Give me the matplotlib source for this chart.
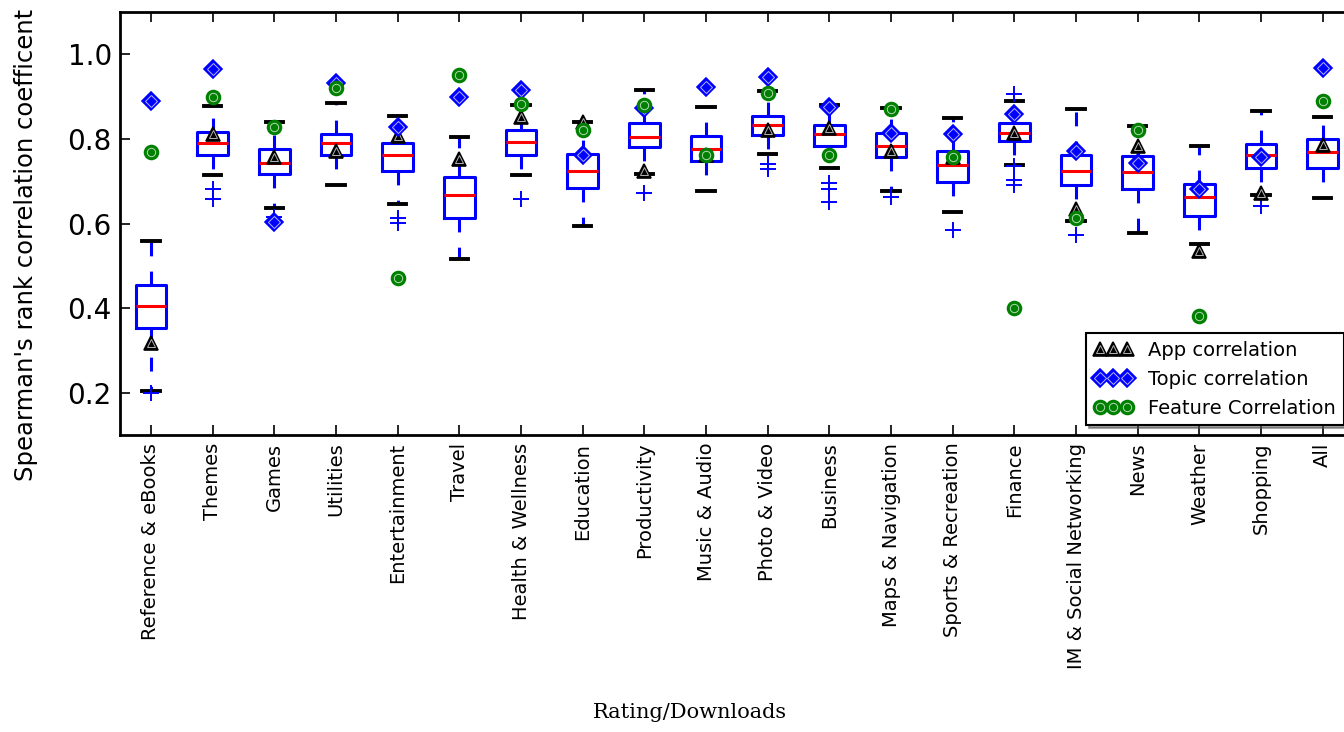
import numpy as np
import matplotlib
matplotlib.use("Agg")
import matplotlib.pyplot as plt
from matplotlib.legend_handler import HandlerTuple

# App categories along the x axis
categories = [
    "Reference & eBooks", "Themes", "Games", "Utilities", "Entertainment",
    "Travel", "Health & Wellness", "Education", "Productivity", "Music & Audio",
    "Photo & Video", "Business", "Maps & Navigation", "Sports & Recreation",
    "Finance", "IM & Social Networking", "News", "Weather", "Shopping", "All",
]

# Box statistics of the per-category correlation distributions
medians = [0.405, 0.791, 0.743, 0.790, 0.761, 0.667, 0.792, 0.724, 0.804, 0.776,
           0.834, 0.811, 0.783, 0.738, 0.814, 0.725, 0.722, 0.663, 0.761, 0.768]
q1 = [0.353, 0.763, 0.716, 0.762, 0.724, 0.614, 0.761, 0.685, 0.780, 0.747,
      0.809, 0.783, 0.757, 0.699, 0.794, 0.692, 0.682, 0.617, 0.731, 0.732]
q3 = [0.455, 0.816, 0.776, 0.812, 0.790, 0.711, 0.820, 0.765, 0.838, 0.807,
      0.855, 0.833, 0.815, 0.771, 0.837, 0.763, 0.760, 0.694, 0.788, 0.800]
whisker_lo = [0.204, 0.714, 0.637, 0.692, 0.645, 0.515, 0.714, 0.594, 0.718, 0.678,
              0.765, 0.731, 0.676, 0.627, 0.739, 0.605, 0.578, 0.551, 0.668, 0.660]
whisker_hi = [0.559, 0.878, 0.841, 0.884, 0.853, 0.805, 0.880, 0.841, 0.915, 0.875,
              0.914, 0.880, 0.872, 0.849, 0.889, 0.871, 0.830, 0.784, 0.867, 0.852]
fliers = [[0.200], [0.682, 0.659], [0.616], [], [0.612, 0.602],
          [], [0.659], [], [0.672], [],
          [0.741, 0.729], [0.696, 0.682, 0.652], [0.663], [0.584],
          [0.906, 0.736, 0.704, 0.692],
          [0.572], [], [], [0.641], []]

# Single correlation values per category
app_corr = [0.318, 0.812, 0.758, 0.772, 0.808, 0.753, 0.851, 0.841, 0.725, 0.762,
            0.821, 0.825, 0.772, 0.758, 0.813, 0.634, 0.784, 0.536, 0.672, 0.786]
topic_corr = [0.890, 0.965, 0.604, 0.933, 0.829, 0.900, 0.916, 0.761, 0.873, 0.923,
              0.947, 0.876, 0.813, 0.812, 0.860, 0.772, 0.744, 0.682, 0.758, 0.967]
feature_corr = [0.770, 0.900, 0.829, 0.920, 0.471, 0.950, 0.882, 0.820, 0.881, 0.761,
                0.908, 0.761, 0.871, 0.758, 0.400, 0.612, 0.820, 0.382, np.nan, 0.890]

yticks = [0.2, 0.4, 0.6, 0.8, 1.0]

plt.rcParams['lines.scale_dashes'] = False

fig = plt.figure(figsize=(13.44, 7.32), dpi=100)
ax = fig.add_axes([0.0894, 0.4057, 0.9177, 0.5779])

positions = np.arange(1, len(categories) + 1)
stats = [dict(med=m, q1=a, q3=b, whislo=lo, whishi=hi, fliers=f, label=c)
         for m, a, b, lo, hi, f, c in zip(medians, q1, q3, whisker_lo,
                                           whisker_hi, fliers, categories)]
ax.bxp(stats, positions=positions, widths=0.5, capwidths=0.28,
       boxprops=dict(color='blue', linewidth=2.2),
       medianprops=dict(color='red', linewidth=2.2),
       whiskerprops=dict(color='blue', linewidth=2.2, linestyle=(0, (10, 11))),
       capprops=dict(color='black', linewidth=2.8),
       flierprops=dict(marker='+', markeredgecolor='blue', markersize=12,
                       markeredgewidth=1.4, linestyle='none'))


def marker_series(values, marker, color, ms, ring_scale):
    base, = ax.plot(positions, values, linestyle='none', marker=marker,
                    color=color, markerfacecolor=color, markeredgecolor=color,
                    markersize=ms, markeredgewidth=1.2, zorder=4)
    ring, = ax.plot(positions, values, linestyle='none', marker=marker,
                    markerfacecolor='none', markeredgecolor='white',
                    markersize=ms * ring_scale, markeredgewidth=0.7, alpha=0.7,
                    zorder=4)
    return base, ring


tri = marker_series(app_corr, '^', 'black', 10.5, 0.5)
dia = marker_series(topic_corr, 'D', 'blue', 9, 0.7)
cir = marker_series(feature_corr, 'o', '#008000', 10, 0.6)

ax.set_xlim(0.5, len(categories) + 0.5)
ax.set_ylim(0.1, 1.1)
ax.set_xticks(positions)
ax.set_xticklabels(categories, rotation=90, fontsize=14)
ax.set_yticks(yticks)
ax.set_yticklabels([f"{v:.1f}" for v in yticks], fontsize=20)
ax.tick_params(direction='in', length=7, width=1.2, top=True, right=True)
ax.tick_params(axis='x', pad=5.5)
ax.tick_params(axis='y', pad=6)
for sp in ax.spines.values():
    sp.set_linewidth(2)

ax.set_ylabel("Spearman's rank correlation coefficent", fontsize=17.5)
ax.yaxis.set_label_coords(-0.067, 0.449)
ax.set_xlabel("Rating/Downloads", fontsize=15, family='DejaVu Serif')
ax.xaxis.set_label_coords(0.462, -0.634)

leg = ax.legend([tri, dia, cir],
                ["App correlation", "Topic correlation", "Feature Correlation"],
                handler_map={tuple: HandlerTuple(ndivide=1)},
                loc='lower right', numpoints=3, fontsize=14, shadow=True,
                fancybox=False, framealpha=1, edgecolor='black',
                borderpad=0.4, labelspacing=0.5, handletextpad=0.8,
                borderaxespad=0.5, handlelength=2.0)
leg.get_frame().set_linewidth(1.5)

fig.savefig("out.png", dpi=100)
